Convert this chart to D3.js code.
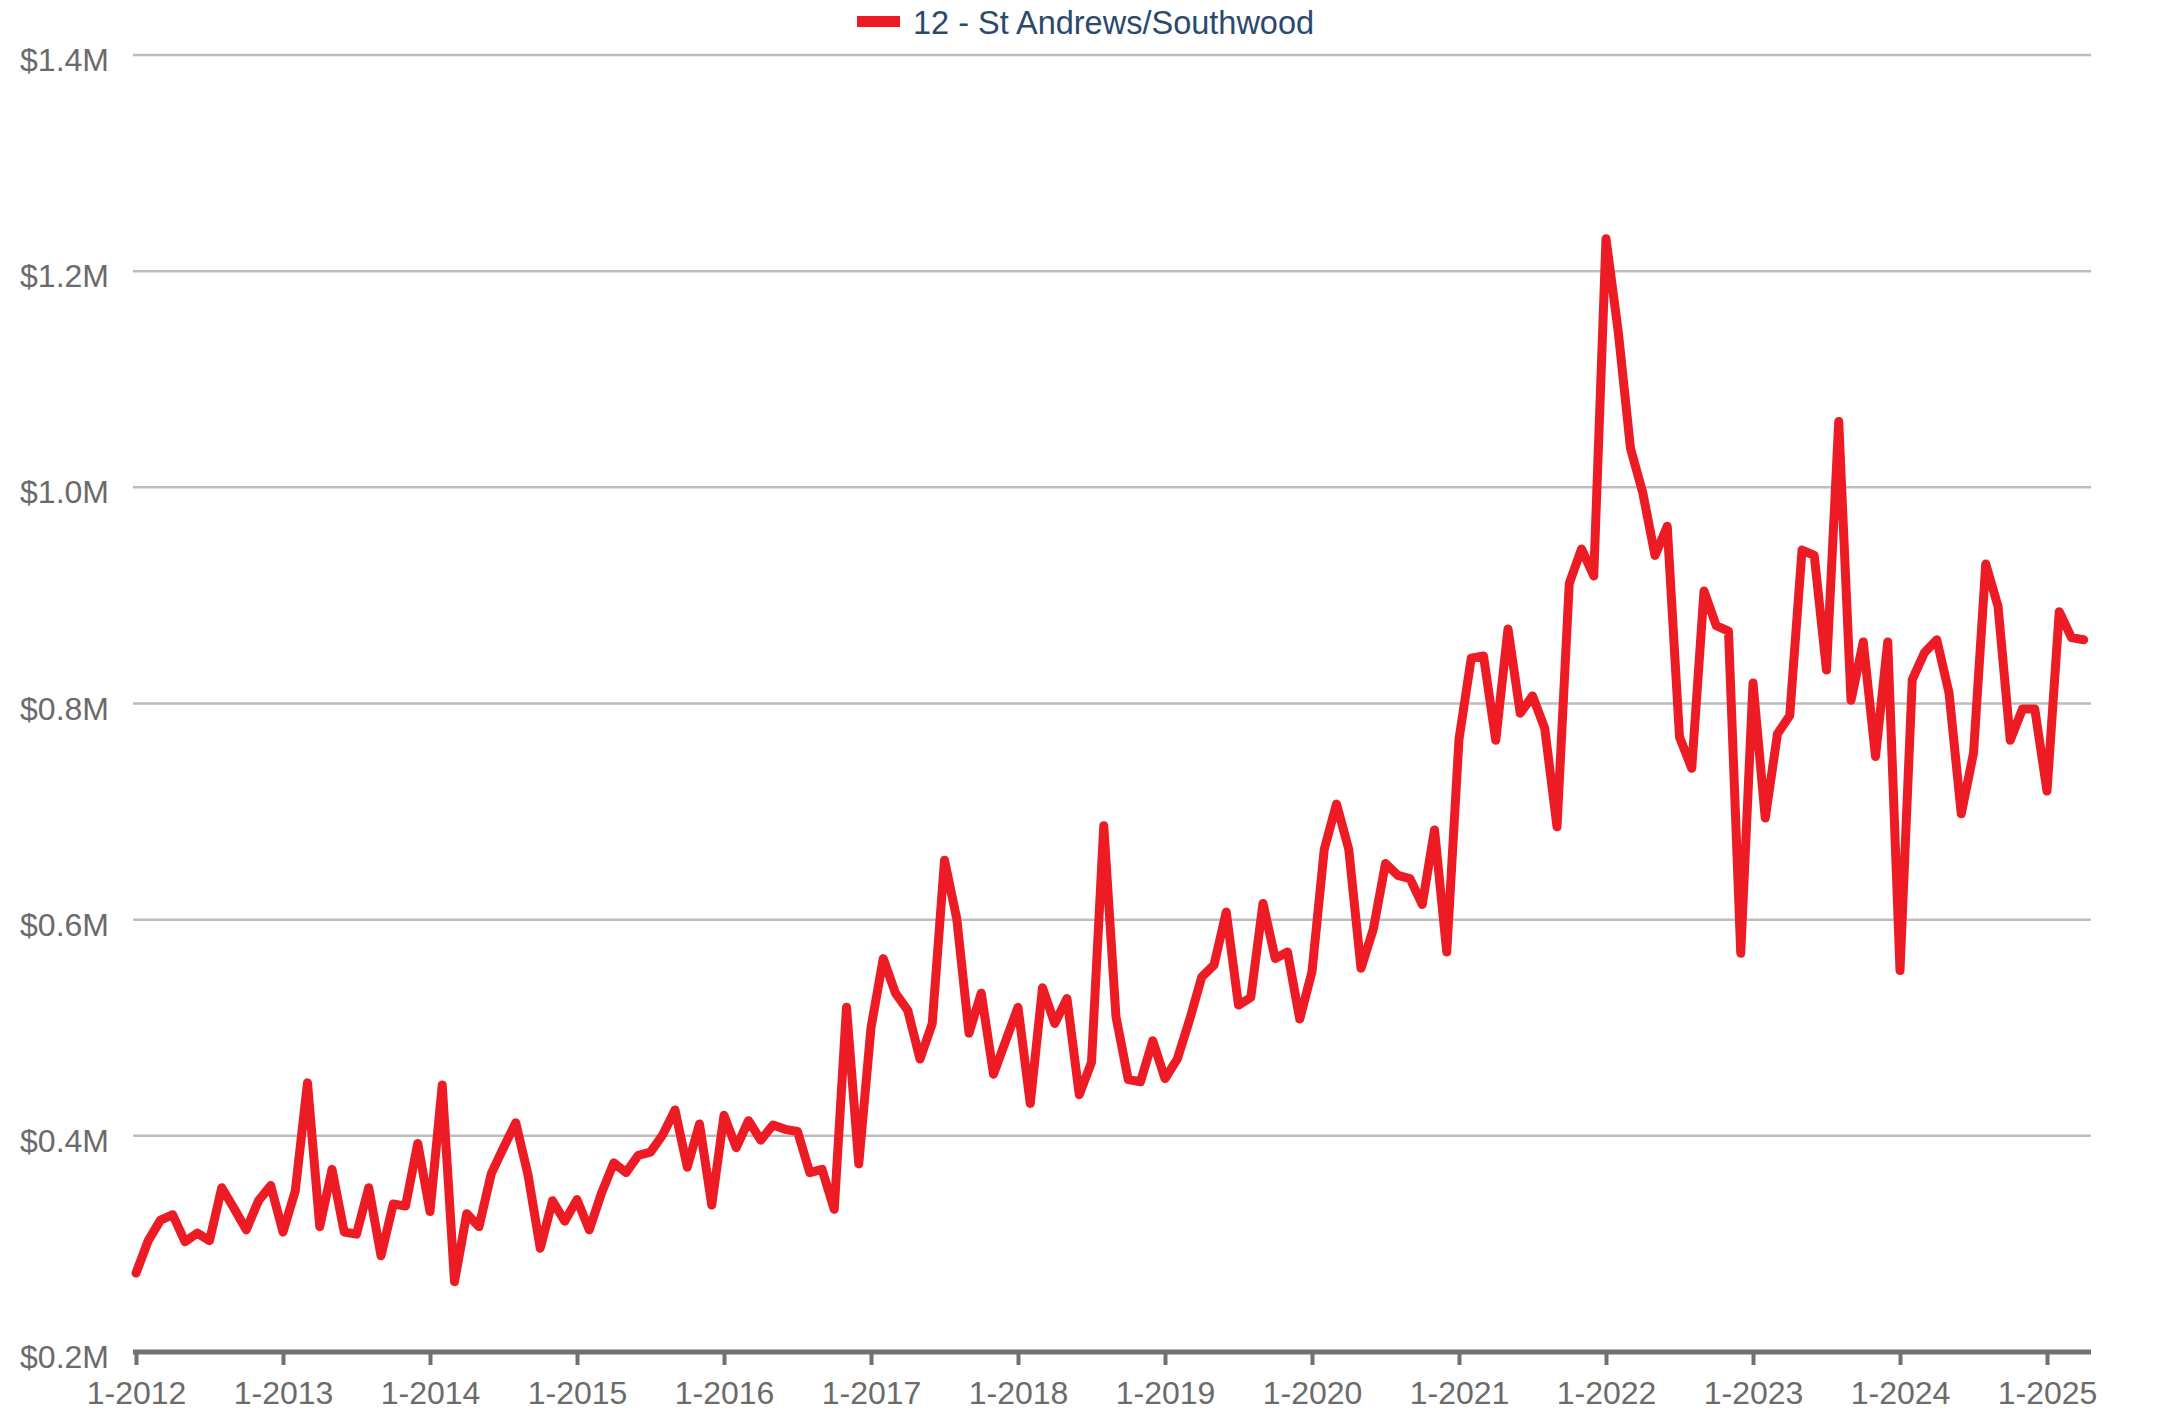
<!DOCTYPE html>
<html>
<head>
<meta charset="utf-8">
<script src="https://cdn.jsdelivr.net/npm/d3@7"></script>
<style>
  html, body { margin: 0; padding: 0; background: #ffffff; }
  svg { display: block; }
</style>
</head>
<body>
<div id="chart"></div>
<script>
// ---- Data (median price, $M), monthly from 1-2012 ----
const seriesName = "12 - St Andrews/Southwood";
const startYear = 2012;
const values = [
  0.273, 0.303, 0.322, 0.327, 0.302, 0.310, 0.303, 0.352, 0.333, 0.313, 0.340, 0.354,
  0.311, 0.349, 0.449, 0.316, 0.369, 0.311, 0.309, 0.352, 0.289, 0.337, 0.335, 0.393,
  0.330, 0.447, 0.265, 0.328, 0.316, 0.365, 0.389, 0.412, 0.364, 0.296, 0.340, 0.321,
  0.341, 0.313, 0.347, 0.375, 0.366, 0.382, 0.385, 0.401, 0.424, 0.371, 0.411, 0.336,
  0.419, 0.389, 0.414, 0.396, 0.410, 0.406, 0.404, 0.366, 0.369, 0.332, 0.519, 0.374,
  0.500, 0.564, 0.532, 0.516, 0.471, 0.504, 0.655, 0.601, 0.495, 0.532, 0.457, 0.488,
  0.519, 0.430, 0.537, 0.504, 0.527, 0.438, 0.468, 0.687, 0.510, 0.452, 0.450, 0.488,
  0.453, 0.471, 0.507, 0.547, 0.558, 0.607, 0.521, 0.528, 0.615, 0.564, 0.570, 0.508,
  0.552, 0.665, 0.707, 0.665, 0.555, 0.591, 0.652, 0.641, 0.638, 0.614, 0.683, 0.570,
  0.767, 0.842, 0.844, 0.766, 0.869, 0.791, 0.807, 0.777, 0.686, 0.911, 0.943, 0.918,
  1.230, 1.144, 1.036, 0.995, 0.937, 0.964, 0.769, 0.740, 0.904, 0.872, 0.867, 0.569,
  0.819, 0.694, 0.772, 0.789, 0.942, 0.937, 0.831, 1.061, 0.803, 0.857, 0.751, 0.857,
  0.553, 0.822, 0.847, 0.859, 0.810, 0.698, 0.754, 0.929, 0.890, 0.766, 0.795, 0.795,
  0.719, 0.885, 0.861, 0.859
];
const yTicks = [0.2, 0.4, 0.6, 0.8, 1.0, 1.2, 1.4];
const xTickYears = [2012, 2013, 2014, 2015, 2016, 2017, 2018, 2019, 2020, 2021, 2022, 2023, 2024, 2025];

// month labels "M-YYYY"
const labels = values.map((v, i) => ((i % 12) + 1) + "-" + (startYear + Math.floor(i / 12)));
const data = values.map((v, i) => ({ i, label: labels[i], v }));

// ---- Layout ----
const W = 2157, H = 1410;
const gridLeft = 133, gridRight = 2091;
const x0 = 136, xJan2025 = 2047;
const yTop = 55, yBottom = 1352;
const fontFamily = "'Liberation Sans', Arial, Helvetica, sans-serif";

const svg = d3.select("#chart").append("svg").attr("width", W).attr("height", H);

const x = d3.scaleLinear().domain([0, 156]).range([x0, xJan2025]);
const y = d3.scaleLinear().domain([0.2, 1.4]).range([yBottom, yTop]);

// Gridlines
svg.append("g")
  .selectAll("line")
  .data(yTicks.filter(t => t > 0.2))
  .join("line")
  .attr("x1", gridLeft).attr("x2", gridRight)
  .attr("y1", d => y(d)).attr("y2", d => y(d))
  .attr("stroke", "#bdbdbd").attr("stroke-width", 2.5);

// Y labels
svg.append("g")
  .selectAll("text")
  .data(yTicks)
  .join("text")
  .attr("x", 109)
  .attr("y", d => y(d) + 16)
  .attr("text-anchor", "end")
  .attr("font-family", fontFamily)
  .attr("font-size", 32)
  .attr("fill", "#6b6b6b")
  .text(d => "$" + d.toFixed(1) + "M");

// X axis
const xAxis = d3.axisBottom(x)
  .tickValues(xTickYears.map(yr => (yr - startYear) * 12))
  .tickFormat(d => labels[d] !== undefined ? labels[d] : ("1-" + (startYear + d / 12)))
  .tickSize(13)
  .tickSizeOuter(0)
  .tickPadding(16);

const gx = svg.append("g").attr("transform", `translate(0,${yBottom})`).call(xAxis);
gx.select(".domain").remove();
gx.append("line")
  .attr("x1", gridLeft).attr("x2", gridRight)
  .attr("y1", 0).attr("y2", 0)
  .attr("stroke", "#707070").attr("stroke-width", 5);
gx.selectAll(".tick line").attr("stroke", "#707070").attr("stroke-width", 4);
gx.selectAll(".tick text")
  .attr("font-family", fontFamily)
  .attr("font-size", 32)
  .attr("fill", "#6b6b6b");

// Line
const line = d3.line().x(d => x(d.i)).y(d => y(d.v));
svg.append("path")
  .datum(data)
  .attr("fill", "none")
  .attr("stroke", "#ed1c24")
  .attr("stroke-width", 9)
  .attr("stroke-linejoin", "round")
  .attr("stroke-linecap", "round")
  .attr("d", line);

// Legend
const lg = svg.append("g");
lg.append("rect").attr("x", 857).attr("y", 16).attr("width", 43).attr("height", 11).attr("fill", "#ed1c24");
lg.append("text")
  .attr("x", 913).attr("y", 34)
  .attr("font-family", fontFamily)
  .attr("font-size", 32.5)
  .attr("fill", "#2b4a6b")
  .text(seriesName);
</script>
</body>
</html>
